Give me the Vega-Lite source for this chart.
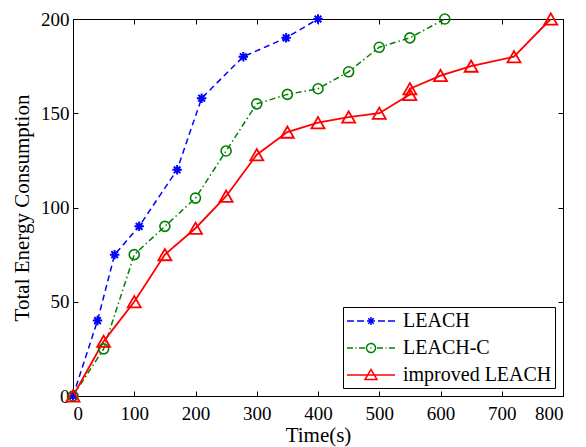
{
  "$schema": "https://vega.github.io/schema/vega-lite/v6.json",
  "autosize": "none",
  "width": 490,
  "height": 377,
  "padding": {"left": 73, "top": 19, "right": 23, "bottom": 51},
  "background": "white",
  "config": {
    "view": {"stroke": "black", "strokeWidth": 1},
    "axis": {
      "labelFont": "Liberation Serif",
      "labelFontSize": 19,
      "labelColor": "black",
      "titleFont": "Liberation Serif",
      "titleFontSize": 21,
      "titleFontWeight": "normal",
      "titleColor": "black",
      "tickColor": "black",
      "domainColor": "black",
      "grid": false
    },
    "legend": {
      "labelFont": "Liberation Serif",
      "labelFontSize": 20,
      "labelColor": "black"
    }
  },
  "data": {
    "values": [
      {"series": "LEACH", "i": 0, "t": 0, "e": 0},
      {"series": "LEACH", "i": 1, "t": 40, "e": 40},
      {"series": "LEACH", "i": 2, "t": 68, "e": 75},
      {"series": "LEACH", "i": 3, "t": 108, "e": 90},
      {"series": "LEACH", "i": 4, "t": 170, "e": 120},
      {"series": "LEACH", "i": 5, "t": 210, "e": 158},
      {"series": "LEACH", "i": 6, "t": 278, "e": 180},
      {"series": "LEACH", "i": 7, "t": 348, "e": 190},
      {"series": "LEACH", "i": 8, "t": 400, "e": 200},
      {"series": "LEACH-C", "i": 0, "t": 0, "e": 0},
      {"series": "LEACH-C", "i": 1, "t": 50, "e": 25},
      {"series": "LEACH-C", "i": 2, "t": 100, "e": 75},
      {"series": "LEACH-C", "i": 3, "t": 150, "e": 90},
      {"series": "LEACH-C", "i": 4, "t": 200, "e": 105},
      {"series": "LEACH-C", "i": 5, "t": 250, "e": 130},
      {"series": "LEACH-C", "i": 6, "t": 300, "e": 155},
      {"series": "LEACH-C", "i": 7, "t": 350, "e": 160},
      {"series": "LEACH-C", "i": 8, "t": 400, "e": 163},
      {"series": "LEACH-C", "i": 9, "t": 450, "e": 172},
      {"series": "LEACH-C", "i": 10, "t": 500, "e": 185},
      {"series": "LEACH-C", "i": 11, "t": 550, "e": 190},
      {"series": "LEACH-C", "i": 12, "t": 607, "e": 200},
      {"series": "improved LEACH", "i": 0, "t": 0, "e": 0},
      {"series": "improved LEACH", "i": 1, "t": 50, "e": 29},
      {"series": "improved LEACH", "i": 2, "t": 100, "e": 50},
      {"series": "improved LEACH", "i": 3, "t": 150, "e": 75},
      {"series": "improved LEACH", "i": 4, "t": 200, "e": 89},
      {"series": "improved LEACH", "i": 5, "t": 250, "e": 106},
      {"series": "improved LEACH", "i": 6, "t": 300, "e": 128},
      {"series": "improved LEACH", "i": 7, "t": 350, "e": 140},
      {"series": "improved LEACH", "i": 8, "t": 400, "e": 145},
      {"series": "improved LEACH", "i": 9, "t": 450, "e": 148},
      {"series": "improved LEACH", "i": 10, "t": 500, "e": 150},
      {"series": "improved LEACH", "i": 11, "t": 550, "e": 160},
      {"series": "improved LEACH", "i": 12, "t": 550, "e": 163},
      {"series": "improved LEACH", "i": 13, "t": 600, "e": 170},
      {"series": "improved LEACH", "i": 14, "t": 650, "e": 175},
      {"series": "improved LEACH", "i": 15, "t": 720, "e": 180},
      {"series": "improved LEACH", "i": 16, "t": 780, "e": 200}
    ]
  },
  "layer": [
    {
      "transform": [{"filter": "datum.series == 'LEACH'"}],
      "mark": {"type": "line", "strokeWidth": 1.5, "strokeDash": [6, 4]},
      "encoding": {
        "x": {
          "field": "t", "type": "quantitative",
          "scale": {"domain": [0, 800], "nice": false},
          "axis": {"orient": "bottom", "title": "Time(s)", "values": [0,100,200,300,400,500,600,700,800], "tickSize": -5, "labelPadding": 13, "titleY": 45, "titleBaseline": "alphabetic"}
        },
        "y": {
          "field": "e", "type": "quantitative",
          "scale": {"domain": [0, 200], "nice": false},
          "axis": {"orient": "left", "title": "Total Energy Consumption", "values": [0,50,100,150,200], "tickSize": -5, "labelPadding": 9, "titlePadding": 8}
        },
        "order": {"field": "i", "type": "quantitative"},
        "color": {
          "field": "series", "type": "nominal",
          "scale": {"domain": ["LEACH", "LEACH-C", "improved LEACH"], "range": ["#0000ff", "#008000", "#ff0000"]},
          "legend": {
            "title": null,
            "orient": "bottom-right",
            "offset": 8,
            "strokeColor": "black",
            "fillColor": "white",
            "padding": 3,
            "symbolSize": 400,
            "labelOffset": 35,
            "rowPadding": 6,
            "encode": {
              "symbols": {
                "update": {
                  "shape": {"signal": "datum.value == 'LEACH' ? 'M-1,0H-0.3M0,0H0.7M1,0H1.8M2.1,0H2.8M3.1,0H3.8M1.4,-0.4V0.4M1.12,-0.28L1.68,0.28M1.12,0.28L1.68,-0.28' : datum.value == 'LEACH-C' ? 'M-1,0H-0.4M-0.15,0H-0.05M0.2,0H0.8M1.85,0A0.45,0.45 0 1,1 0.95,0A0.45,0.45 0 1,1 1.85,0M1.35,0H1.45M2,0H2.6M2.85,0H2.95M3.2,0H3.8' : 'M-1,0H3.8M1.4,-0.55L2,0.45L0.8,0.45Z'"},
                  "size": {"value": 400},
                  "strokeWidth": {"value": 1.5},
                  "fill": {"value": "transparent"},
                  "strokeDash": {"value": [1, 0]}
                }
              }
            }
          }
        }
      }
    },
    {
      "transform": [{"filter": "datum.series == 'LEACH-C'"}],
      "mark": {"type": "line", "strokeWidth": 1.5, "strokeDash": [6, 3, 1.5, 3]},
      "encoding": {
        "x": {"field": "t", "type": "quantitative", "axis": {"orient": "top", "title": null, "labels": false, "values": [0,100,200,300,400,500,600,700,800], "tickSize": -5}},
        "y": {"field": "e", "type": "quantitative", "axis": {"orient": "right", "title": null, "labels": false, "values": [0,50,100,150,200], "tickSize": -5}},
        "order": {"field": "i", "type": "quantitative"},
        "color": {"field": "series", "type": "nominal"}
      }
    },
    {
      "transform": [{"filter": "datum.series == 'improved LEACH'"}],
      "mark": {"type": "line", "strokeWidth": 1.8},
      "encoding": {
        "x": {"field": "t", "type": "quantitative", "axis": null},
        "y": {"field": "e", "type": "quantitative", "axis": null},
        "order": {"field": "i", "type": "quantitative"},
        "color": {"field": "series", "type": "nominal"}
      }
    },
    {
      "transform": [{"filter": "datum.series == 'LEACH'"}],
      "mark": {"type": "point", "filled": false, "strokeWidth": 2, "opacity": 1, "size": 90, "shape": "M0,-1V1M-1,0H1M-0.7,-0.7L0.7,0.7M-0.7,0.7L0.7,-0.7"},
      "encoding": {
        "x": {"field": "t", "type": "quantitative", "axis": null},
        "y": {"field": "e", "type": "quantitative", "axis": null},
        "color": {"field": "series", "type": "nominal"}
      }
    },
    {
      "transform": [{"filter": "datum.series == 'LEACH-C'"}],
      "mark": {"type": "point", "filled": false, "strokeWidth": 1.6, "opacity": 1, "size": 100, "shape": "circle"},
      "encoding": {
        "x": {"field": "t", "type": "quantitative", "axis": null},
        "y": {"field": "e", "type": "quantitative", "axis": null},
        "color": {"field": "series", "type": "nominal"}
      }
    },
    {
      "transform": [{"filter": "datum.series == 'improved LEACH'"}],
      "mark": {"type": "point", "filled": false, "strokeWidth": 1.8, "opacity": 1, "size": 169, "shape": "triangle-up"},
      "encoding": {
        "x": {"field": "t", "type": "quantitative", "axis": null},
        "y": {"field": "e", "type": "quantitative", "axis": null},
        "color": {"field": "series", "type": "nominal"}
      }
    }
  ],
  "resolve": {"axis": {"x": "independent", "y": "independent"}}
}
